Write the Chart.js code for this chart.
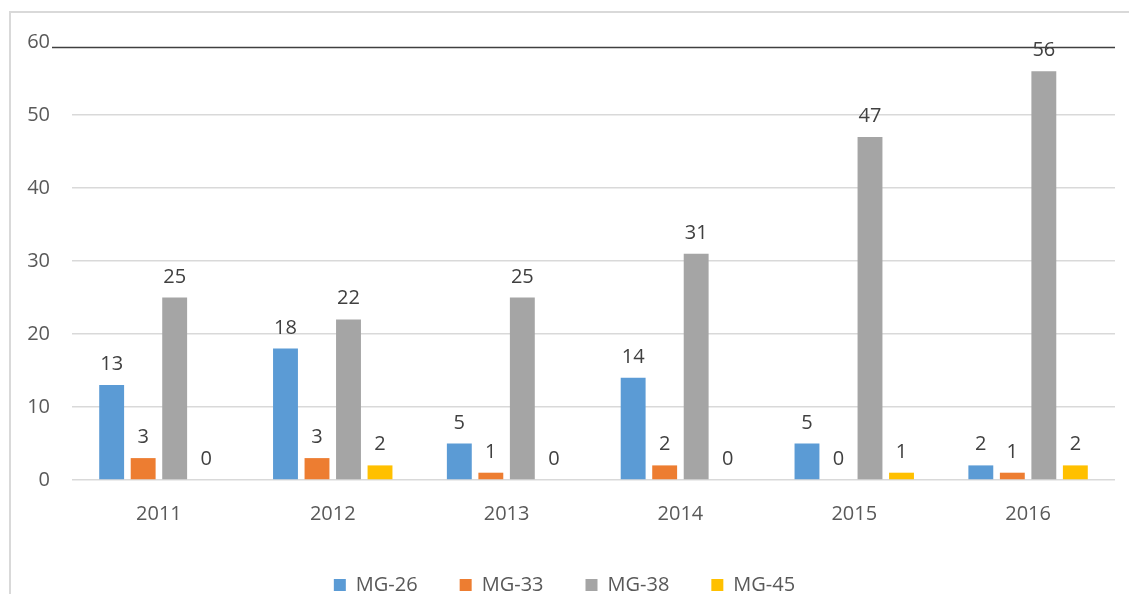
<!DOCTYPE html>
<html>
<head>
<meta charset="utf-8">
<script src="https://cdn.jsdelivr.net/npm/chart.js@4.4.1/dist/chart.umd.min.js"></script>
<style>
  html, body { margin: 0; padding: 0; background: #fff; overflow: hidden; }
  #wrap { position: absolute; left: 0; top: 0; width: 1129px; height: 605px; }
</style>
</head>
<body>
<div id="wrap"><canvas id="c" width="1129" height="605"></canvas></div>
<script>
const categories = ['2011', '2012', '2013', '2014', '2015', '2016'];
const seriesNames = ['MG-26', 'MG-33', 'MG-38', 'MG-45'];
const mg26 = [13, 18, 5, 14, 5, 2];
const mg33 = [3, 3, 1, 2, 0, 1];
const mg38 = [25, 22, 25, 31, 47, 56];
const mg45 = [0, 2, 0, 0, 1, 2];
const seriesColors = ['#5B9BD5', '#ED7D31', '#A5A5A5', '#FFC000'];
const yTicks = [0, 10, 20, 30, 40, 50, 60];
const topRuleValue = 59.25;

const FONT = "'Open Sans', 'Liberation Sans', sans-serif";

const frame = {
  id: 'frame',
  beforeDraw(chart) {
    const ctx = chart.ctx;
    ctx.save();
    ctx.fillStyle = '#fff';
    ctx.fillRect(0, 0, chart.width, chart.height);
    ctx.strokeStyle = '#d9d9d9';
    ctx.lineWidth = 2;
    ctx.beginPath();
    ctx.moveTo(10, chart.height + 10);
    ctx.lineTo(10, 12);
    ctx.lineTo(chart.width + 10, 12);
    ctx.stroke();
    ctx.restore();
  }
};

const topRule = {
  id: 'topRule',
  afterDraw(chart) {
    const y = Math.round(chart.scales.y.getPixelForValue(topRuleValue)) + 0.5;
    const ctx = chart.ctx;
    ctx.save();
    ctx.strokeStyle = '#404040';
    ctx.lineWidth = 1.5;
    ctx.beginPath();
    ctx.moveTo(chart.chartArea.left - 20, y);
    ctx.lineTo(chart.chartArea.right, y);
    ctx.stroke();
    ctx.restore();
  }
};

const valueLabels = {
  id: 'valueLabels',
  afterDatasetsDraw(chart) {
    const ctx = chart.ctx;
    ctx.save();
    ctx.font = '20px ' + FONT;
    ctx.fillStyle = '#404040';
    ctx.textAlign = 'center';
    ctx.textBaseline = 'alphabetic';
    chart.data.datasets.forEach((ds, i) => {
      const meta = chart.getDatasetMeta(i);
      meta.data.forEach((el, j) => {
        ctx.fillText(String(ds.data[j]), el.x, el.y - 15);
      });
    });
    ctx.restore();
  }
};

const allSeries = [mg26, mg33, mg38, mg45];

new Chart(document.getElementById('c'), {
  type: 'bar',
  data: {
    labels: categories,
    datasets: allSeries.map((d, i) => ({
      label: seriesNames[i],
      data: d,
      backgroundColor: seriesColors[i],
      borderWidth: 0,
      categoryPercentage: 0.725,
      barPercentage: 0.79
    }))
  },
  options: {
    responsive: false,
    animation: false,
    devicePixelRatio: 1,
    layout: { padding: { top: 42, left: 0, right: 0, bottom: 0 } },
    plugins: {
      tooltip: { enabled: false },
      legend: {
        position: 'bottom',
        labels: {
          boxWidth: 12,
          boxHeight: 12,
          padding: 42,
          color: '#595959',
          font: { family: FONT, size: 20 }
        }
      }
    },
    scales: {
      x: {
        grid: { display: false },
        border: { display: false },
        ticks: {
          color: '#595959',
          font: { family: FONT, size: 20 },
          padding: 14
        },
        afterFit(scale) { scale.height = 53; }
      },
      y: {
        min: 0,
        max: 60,
        afterBuildTicks(scale) { scale.ticks = yTicks.map(v => ({ value: v })); },
        grid: {
          color: (c) => (c.tick && c.tick.value === 60) ? 'rgba(0,0,0,0)' : '#d9d9d9',
          lineWidth: 1.5,
          drawTicks: false
        },
        border: { display: false },
        ticks: {
          color: '#595959',
          font: { family: FONT, size: 20 },
          padding: 22
        },
        afterFit(scale) { scale.width = 72; }
      },
      y2: {
        position: 'right',
        display: true,
        grid: { display: false },
        border: { display: false },
        ticks: { display: false },
        afterFit(scale) { scale.width = 14; }
      }
    }
  },
  plugins: [frame, topRule, valueLabels]
});
</script>
</body>
</html>
